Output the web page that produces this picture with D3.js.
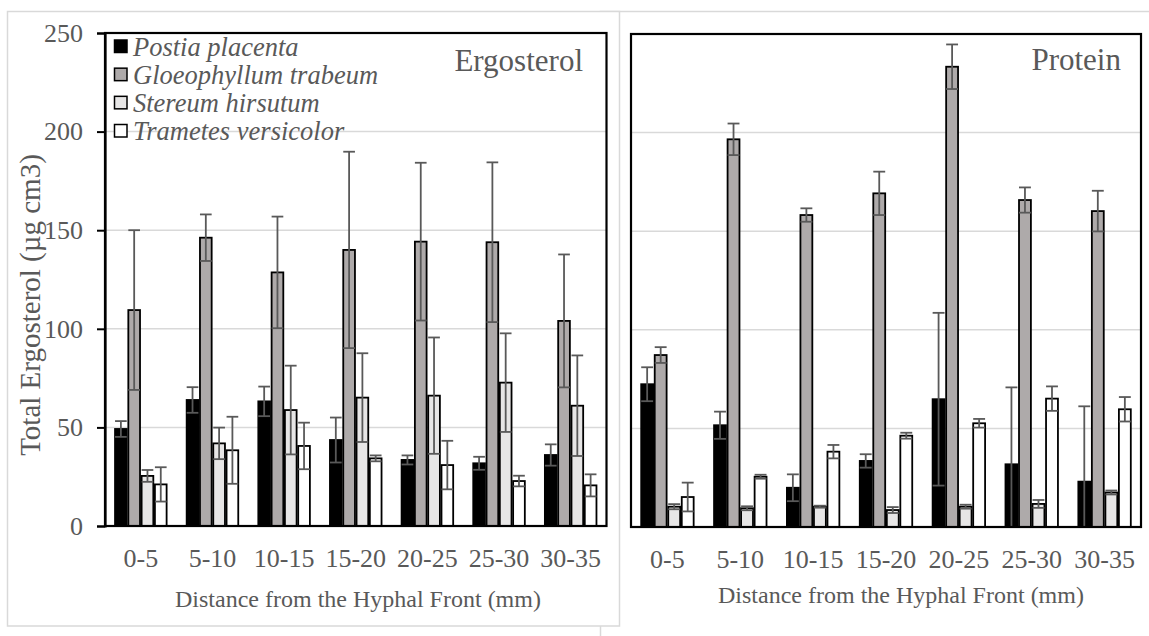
<!DOCTYPE html>
<html>
<head>
<meta charset="utf-8">
<script src="https://cdn.jsdelivr.net/npm/d3@7"></script>
<style>
  body { margin: 0; background: #fff; }
  svg { display: block; }
  text { font-family: "Liberation Serif", "Times New Roman", serif; fill: #595959; }
</style>
</head>
<body>
<svg id="fig" width="1149" height="636"></svg>
<script>
// Distance classes (mm) and fungal species
const categories = ["0-5", "5-10", "10-15", "15-20", "20-25", "25-30", "30-35"];
const speciesNames = ["Postia placenta", "Gloeophyllum trabeum", "Stereum hirsutum", "Trametes versicolor"];
const speciesFills = ["#000000", "#aeaaaa", "#e7e6e6", "#ffffff"];
const yTickValues = [0, 50, 100, 150, 200, 250];
const gridValues = [50, 100, 150, 200];

// Total ergosterol: means and error (±)
const ergPostia = [49.2, 63.9, 63.2, 43.6, 33.5, 31.8, 36.0];
const ergPostiaErr = [4.0, 6.5, 7.5, 11.4, 2.3, 3.3, 5.4];
const ergGloeo = [109.5, 146.2, 128.6, 140.0, 144.2, 143.9, 104.0];
const ergGloeoErr = [40.5, 11.8, 28.3, 49.8, 40.0, 40.5, 33.7];
const ergStereum = [25.4, 41.9, 58.8, 65.1, 66.1, 72.7, 61.0];
const ergStereumErr = [3.0, 8.0, 22.5, 22.5, 29.5, 25.0, 25.5];
const ergTrametes = [21.1, 38.4, 40.6, 34.3, 30.9, 22.8, 20.6];
const ergTrametesErr = [8.7, 17.0, 11.8, 1.5, 12.3, 2.7, 5.6];

// Protein: means and error (±)
const protPostia = [72.4, 51.6, 19.9, 33.5, 64.8, 31.8, 23.0];
const protPostiaErr = [8.6, 6.9, 6.8, 3.4, 43.8, 39.0, 38.2];
const protGloeo = [87.2, 196.6, 158.2, 169.2, 233.4, 165.8, 160.2];
const protGloeoErr = [4.0, 8.0, 3.4, 11.0, 11.3, 6.4, 10.3];
const protStereum = [10.3, 9.5, 10.3, 8.6, 10.3, 11.7, 17.5];
const protStereumErr = [1.3, 1.0, 0.5, 1.5, 1.0, 2.0, 1.0];
const protTrametes = [15.2, 25.5, 38.2, 46.3, 52.6, 65.1, 59.7];
const protTrametesErr = [7.3, 1.0, 3.4, 1.5, 2.2, 6.2, 6.2];

const svg = d3.select("#fig");
const serif = '"Liberation Serif", "Times New Roman", serif';

// Chart-area frames
svg.append("rect").attr("x", 600.5).attr("y", 11.5).attr("width", 700).attr("height", 700)
  .attr("fill", "#fff").attr("stroke", "#d9d9d9").attr("stroke-width", 1.5);
svg.append("rect").attr("x", 7.5).attr("y", 11.5).attr("width", 612).attr("height", 614.5)
  .attr("fill", "#fff").attr("stroke", "#d9d9d9").attr("stroke-width", 1.5);

function drawPanel(cfg) {
  const g = svg.append("g");
  const x0 = d3.scaleBand().domain(categories).range([cfg.left, cfg.right])
    .paddingInner(0.28).paddingOuter(0.14);
  const x1 = d3.scaleBand().domain(speciesNames).range([0, x0.bandwidth()])
    .paddingInner(0.12);
  const y = d3.scaleLinear().domain([0, 250]).range([cfg.bottom, cfg.top]);

  // horizontal gridlines
  g.append("g").selectAll("line").data(gridValues).join("line")
    .attr("x1", cfg.left).attr("x2", cfg.right)
    .attr("y1", d => y(d)).attr("y2", d => y(d))
    .attr("stroke", "#d9d9d9").attr("stroke-width", 1.5);

  // bars
  const rows = categories.map((c, i) => ({
    cat: c,
    items: speciesNames.map((s, k) => ({ s, k, v: cfg.values[k][i], e: cfg.errors[k][i] }))
  }));
  const groups = g.append("g").selectAll("g").data(rows).join("g")
    .attr("transform", d => `translate(${x0(d.cat)},0)`);
  groups.selectAll("rect").data(d => d.items).join("rect")
    .attr("x", d => x1(d.s)).attr("width", x1.bandwidth())
    .attr("y", d => y(d.v)).attr("height", d => y(0) - y(d.v))
    .attr("fill", d => speciesFills[d.k]).attr("stroke", "#000").attr("stroke-width", 1.8);

  // error bars
  const eb = groups.selectAll("g.err").data(d => d.items).join("g").attr("class", "err")
    .attr("stroke", "#595959").attr("stroke-width", 1.8);
  const cx = d => x1(d.s) + x1.bandwidth() / 2;
  const hw = x1.bandwidth() / 2;
  eb.append("line").attr("x1", cx).attr("x2", cx)
    .attr("y1", d => y(Math.max(0, d.v - d.e))).attr("y2", d => y(d.v + d.e));
  eb.append("line").attr("x1", d => cx(d) - hw).attr("x2", d => cx(d) + hw)
    .attr("y1", d => y(d.v + d.e)).attr("y2", d => y(d.v + d.e));
  eb.filter(d => d.v - d.e > 0).append("line")
    .attr("x1", d => cx(d) - hw).attr("x2", d => cx(d) + hw)
    .attr("y1", d => y(d.v - d.e)).attr("y2", d => y(d.v - d.e));

  // plot border
  g.append("rect").attr("x", cfg.left).attr("y", cfg.top)
    .attr("width", cfg.right - cfg.left).attr("height", cfg.bottom - cfg.top)
    .attr("fill", "none").attr("stroke", "#000").attr("stroke-width", 2.2);

  // category axis
  const xa = g.append("g").attr("transform", `translate(0,${cfg.bottom})`)
    .call(d3.axisBottom(x0).tickSize(0).tickPadding(23));
  xa.select(".domain").remove();
  xa.selectAll("text").attr("font-size", 26).style("fill", "#595959")
    .style("font-family", serif);

  // value axis
  if (cfg.showY) {
    const ya = g.append("g").attr("transform", `translate(${cfg.left},0)`)
      .call(d3.axisLeft(y).tickValues(yTickValues).tickSize(8).tickPadding(14));
    ya.select(".domain").attr("stroke", "#000").attr("stroke-width", 2.2);
    ya.selectAll(".tick line").attr("stroke", "#000").attr("stroke-width", 2);
    ya.selectAll("text").attr("font-size", 26).style("fill", "#595959")
      .style("font-family", serif);
    svg.append("text")
      .attr("transform", `translate(${cfg.yTitleX},${cfg.yTitleY}) rotate(-90)`)
      .attr("text-anchor", "middle").attr("dy", "0.35em")
      .attr("font-size", 29).text(cfg.yTitle);
  }

  // axis title
  svg.append("text").attr("x", cfg.xTitleX).attr("y", cfg.xTitleY)
    .attr("text-anchor", "middle").attr("font-size", 24)
    .text("Distance from the Hyphal Front (mm)");

  // panel label
  svg.append("text").attr("x", cfg.labelX).attr("y", cfg.labelY)
    .attr("text-anchor", "end").attr("font-size", 31).text(cfg.label);

  return { x0, x1, y };
}

drawPanel({
  left: 105, right: 606.5, top: 33, bottom: 526,
  values: [ergPostia, ergGloeo, ergStereum, ergTrametes],
  errors: [ergPostiaErr, ergGloeoErr, ergStereumErr, ergTrametesErr],
  showY: true, yTitle: "Total Ergosterol (µg cm3)", yTitleX: 30, yTitleY: 305,
  xTitleX: 358, xTitleY: 607,
  label: "Ergosterol", labelX: 583, labelY: 71
});

drawPanel({
  left: 631, right: 1141, top: 34, bottom: 527,
  values: [protPostia, protGloeo, protStereum, protTrametes],
  errors: [protPostiaErr, protGloeoErr, protStereumErr, protTrametesErr],
  showY: false,
  xTitleX: 901, xTitleY: 603,
  label: "Protein", labelX: 1121, labelY: 70
});

// legend
const legend = svg.append("g").attr("transform", "translate(114,0)");
const legendY = d3.scalePoint().domain(speciesNames).range([46.5, 131]);
const li = legend.selectAll("g").data(speciesNames).join("g")
  .attr("transform", d => `translate(0,${legendY(d)})`);
li.append("rect").attr("x", 0.5).attr("y", -6.5).attr("width", 12.5).attr("height", 12.5)
  .attr("fill", (d, i) => speciesFills[i]).attr("stroke", "#000").attr("stroke-width", 1.5);
li.append("text").attr("x", 19).attr("y", 9).attr("font-size", 26.5)
  .attr("font-style", "italic").text(d => d);
</script>
</body>
</html>
